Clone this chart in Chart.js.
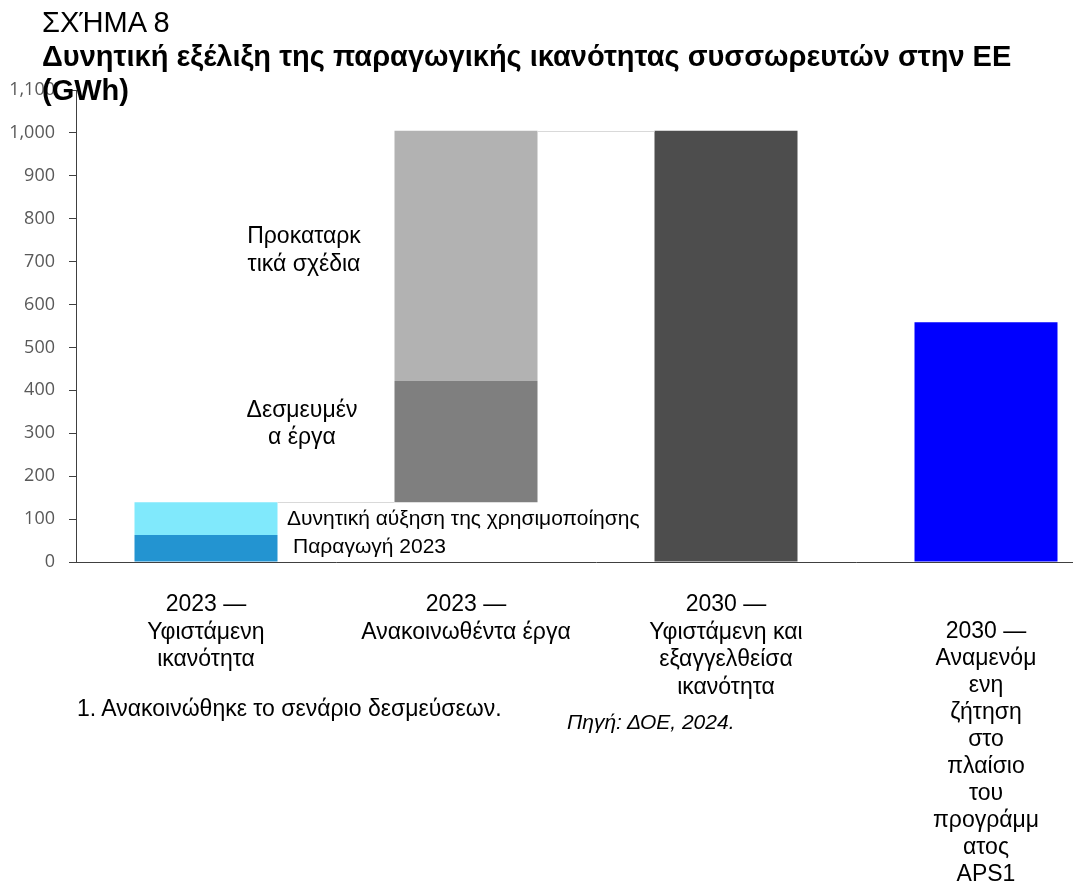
<!DOCTYPE html>
<html>
<head>
<meta charset="utf-8">
<script src="https://cdn.jsdelivr.net/npm/chart.js@4.4.1/dist/chart.umd.min.js"></script>
<style>
  html, body { margin: 0; padding: 0; background: #fff; overflow: hidden; }
  #wrap { position: relative; width: 1116px; height: 883px; }
  .txt { position: absolute; font-family: "Liberation Sans", Arial, sans-serif; color: #000; white-space: nowrap; }
</style>
</head>
<body>
<div id="wrap">
  <canvas id="chart" width="1116" height="883"></canvas>
  <div class="txt" style="left:42px;top:5px;font-size:29px;line-height:34px;">ΣΧΉΜΑ 8<br><b>Δυνητική εξέλιξη της παραγωγικής ικανότητας συσσωρευτών στην ΕΕ<br>(GWh)</b></div>
  <div class="txt" style="left:224px;top:221px;width:160px;text-align:center;font-size:23px;line-height:28px;">Προκαταρκ<br>τικά σχέδια</div>
  <div class="txt" style="left:222px;top:396px;width:160px;text-align:center;font-size:23px;line-height:27px;">Δεσμευμέν<br>α έργα</div>
  <div class="txt" style="left:281px;top:506px;font-size:21px;line-height:24px;padding:0 6px;">Δυνητική αύξηση της χρησιμοποίησης</div>
  <div class="txt" style="left:293px;top:534px;font-size:21px;line-height:24px;">Παραγωγή 2023</div>
  <div class="txt" style="left:77px;top:694px;font-size:23px;line-height:28px;">1. Ανακοινώθηκε το σενάριο δεσμεύσεων.</div>
  <div class="txt" style="left:567px;top:710px;font-size:21px;line-height:24px;font-style:italic;">Πηγή: ΔΟΕ, 2024.</div>
</div>
<script>
const categories = [
  ['2023 —', 'Υφιστάμενη', 'ικανότητα'],
  ['2023 —', 'Ανακοινωθέντα έργα'],
  ['2030 —', 'Υφιστάμενη και', 'εξαγγελθείσα', 'ικανότητα'],
  ['', '2030 —', 'Αναμενόμ', 'ενη', 'ζήτηση', 'στο', 'πλαίσιο', 'του', 'προγράμμ', 'ατος', 'APS1']
]

// floating segments [from, to] in GWh
const production2023 = [[0, 63], null, null, null]
const potentialUse = [[63, 139], null, null, null]
const committed = [null, [139, 422], null, null]
const preliminary = [null, [422, 1005], null, null]
const existing2030 = [null, null, [0, 1005], null]
const apsDemand = [null, null, null, [0, 559]]

const yTicks = [0, 100, 200, 300, 400, 500, 600, 700, 800, 900, 1000, 1100]

const AXIS = '#404040'
const LABEL_FONT = '"Liberation Sans", Arial, sans-serif'

// thin connector lines between waterfall steps
const connectorPlugin = {
  id: 'connectors',
  afterDatasetsDraw: (chart) => {
    const { ctx } = chart
    const y = chart.scales.y
    const steps = [
      { from: chart.getDatasetMeta(1).data[0], to: chart.getDatasetMeta(2).data[1], value: potentialUse[0][1] },
      { from: chart.getDatasetMeta(3).data[1], to: chart.getDatasetMeta(4).data[2], value: preliminary[1][1] },
    ]
    ctx.save()
    ctx.strokeStyle = '#d9d9d9'
    ctx.lineWidth = 1
    steps.forEach((s) => {
      const py = Math.round(y.getPixelForValue(s.value)) + 0.5
      ctx.beginPath()
      ctx.moveTo(s.from.x + s.from.width / 2, py)
      ctx.lineTo(s.to.x - s.to.width / 2, py)
      ctx.stroke()
    })
    ctx.restore()
  },
}

const mk = (label, data, color) => ({
  label,
  data,
  backgroundColor: color,
  borderWidth: 0,
  borderSkipped: false,
  barPercentage: 0.55,
  categoryPercentage: 1,
  grouped: false,
})

new Chart(document.getElementById('chart'), {
  type: 'bar',
  data: {
    labels: categories,
    datasets: [
      mk('Παραγωγή 2023', production2023, '#2394d1'),
      mk('Δυνητική αύξηση της χρησιμοποίησης', potentialUse, '#80e9fc'),
      mk('Δεσμευμένα έργα', committed, '#7f7f7f'),
      mk('Προκαταρκτικά σχέδια', preliminary, '#b2b2b2'),
      mk('Υφιστάμενη και εξαγγελθείσα ικανότητα', existing2030, '#4d4d4d'),
      mk('Αναμενόμενη ζήτηση APS', apsDemand, '#0000ff'),
    ],
  },
  plugins: [connectorPlugin],
  options: {
    responsive: false,
    animation: false,
    layout: { padding: { top: 90, right: 0, left: 0, bottom: 0 } },
    plugins: { legend: { display: false }, tooltip: { enabled: false } },
    scales: {
      x: {
        stacked: true,
        grid: { display: false, drawTicks: false },
        border: { display: true, color: AXIS, width: 1 },
        ticks: {
          color: '#000',
          padding: 29,
          maxRotation: 0,
          autoSkip: false,
          font: (ctx) => ({ family: LABEL_FONT, size: 23, lineHeight: ctx.index === 3 ? 1.174 : 1.2 }),
        },
        afterFit: (scale) => { scale.height = 883 - 562 },
      },
      y: {
        min: 0,
        max: 1100,
        afterBuildTicks: (scale) => { scale.ticks = yTicks.map((v) => ({ value: v })) },
        grid: { display: true, drawOnChartArea: false, drawTicks: true, tickLength: 7, color: AXIS },
        border: { display: true, color: AXIS, width: 1 },
        ticks: {
          color: '#595959',
          padding: 14,
          font: { family: '"Open Sans", sans-serif', size: 18 },
          callback: (v) => v.toLocaleString('en-US'),
        },
        afterFit: (scale) => { scale.width = 76 },
      },
    },
  },
})
</script>
</body>
</html>
